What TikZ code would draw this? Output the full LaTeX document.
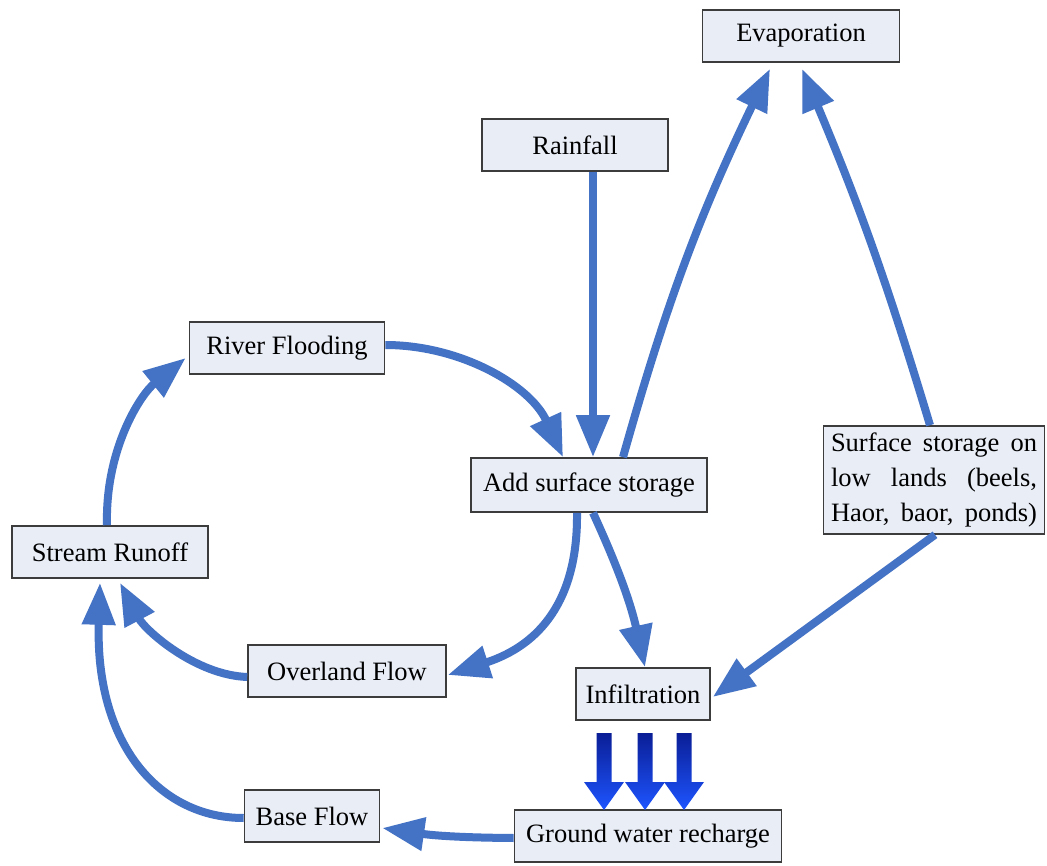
\documentclass[tikz,border=0pt]{standalone}
\usepackage{fontspec}
\setmainfont{Liberation Serif}
\usetikzlibrary{arrows.meta}
\definecolor{boxfill}{RGB}{233,237,246}
\definecolor{boxline}{RGB}{60,60,60}
\definecolor{arrowblue}{RGB}{68,114,196}
\definecolor{darkblue}{RGB}{10,30,150}
\definecolor{brightblue}{RGB}{30,85,255}
\tikzset{
  box/.style={draw=boxline, fill=boxfill, line width=1.6pt, minimum height=52pt,
    inner sep=0pt, font=\fontsize{26.5}{35}\selectfont, anchor=center},
  arr/.style={draw=arrowblue, line width=8pt, -{Triangle[length=42pt,width=32pt]}},
  blockarr/.style={top color=darkblue, bottom color=brightblue, draw=none}
}
\begin{document}
\begin{tikzpicture}[x=1pt,y=-1pt]
\useasboundingbox (0,0) rectangle (1047,866);
\fill[white] (0,0) rectangle (1047,866);

\node[box, minimum width=197pt] (evap) at (801,36) {Evaporation};
\node[box, minimum width=186pt] (rain) at (575,145) {Rainfall};
\node[box, minimum width=195pt] (river) at (287,348) {River Flooding};
\node[box, minimum width=236pt, minimum height=54pt] (add) at (589,485) {Add surface storage};
\node[box, minimum width=221pt, minimum height=108pt, align=left] (surf) at (934,480)
  {\makebox[206pt][s]{Surface storage on}\\ \makebox[206pt][s]{low lands (beels,}\\ \makebox[206pt][s]{Haor, baor, ponds)}};
\node[box, minimum width=196pt] (stream) at (110,552) {Stream Runoff};
\node[box, minimum width=198pt] (over) at (347,671) {Overland Flow};
\node[box, minimum width=134pt] (infil) at (643,694) {Infiltration};
\node[box, minimum width=135pt] (base) at (312,816) {Base Flow};
\node[box, minimum width=267pt] (ground) at (648,836) {Ground water recharge};

% connectors
\draw[arr] ([xshift=18pt]rain.south) -- ([xshift=4pt]add.north);
\draw[arr] ([xshift=34pt]add.north) to[bend left=5] ([xshift=-31pt,yshift=-6pt]evap.south);
\draw[arr] ([xshift=-4pt]surf.north) to[bend right=3] ([xshift=1pt,yshift=-6pt]evap.south);
\draw[arr] ([xshift=1pt]surf.south) -- ([xshift=2pt,yshift=-3pt]infil.east);
\draw[arr] ([xshift=4pt]add.south) to[bend left=6] ([xshift=2pt]infil.north);
\draw[arr] ([xshift=-12pt]add.south) .. controls (578,600) and (540,645) .. ([xshift=1pt,yshift=-4pt]over.east);
\draw[arr] ([yshift=-6pt]over.west) .. controls (195,675) and (145,630) .. ([xshift=10pt,yshift=-4pt]stream.south);
\draw[arr] ([xshift=-3pt]stream.north) .. controls (105,450) and (140,395) .. ([xshift=-3pt,yshift=-10pt]river.west);
\draw[arr] ([yshift=3pt]river.east) .. controls (460,345) and (530,385) .. ([xshift=-26pt]add.north);
\draw[arr] ([yshift=-2pt]ground.west) to[bend left=4] ([xshift=2pt,yshift=-12pt]base.east);
\draw[arr] ([yshift=-2pt]base.west) .. controls (160,818) and (95,745) .. ([xshift=-10pt,yshift=-4pt]stream.south);

% block arrows from infiltration to ground water recharge
\foreach \cx in {604,645,684} {
  \shade[blockarr] (\cx-7.5,733) -- (\cx+7.5,733) -- (\cx+7.5,782) -- (\cx+20,782)
    -- (\cx,810) -- (\cx-20,782) -- (\cx-7.5,782) -- cycle;
}
\end{tikzpicture}
\end{document}
